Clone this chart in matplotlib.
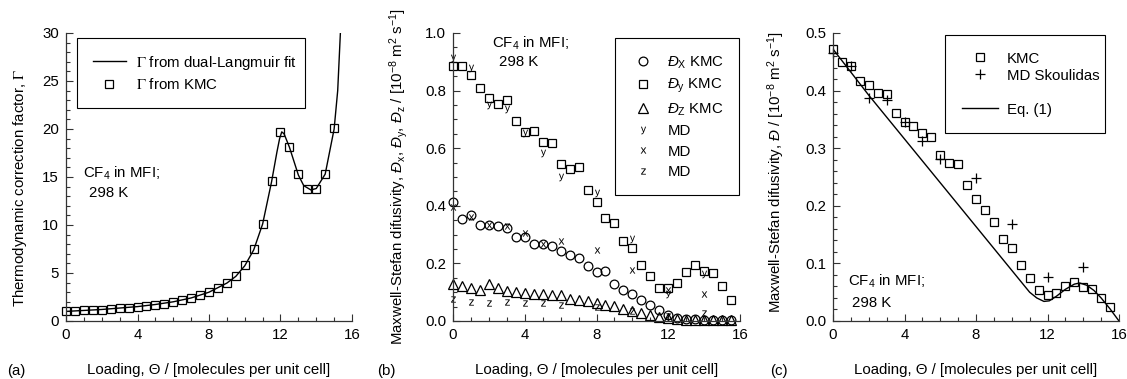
import matplotlib
matplotlib.use("Agg")
import matplotlib.pyplot as plt
from matplotlib.ticker import MultipleLocator, FormatStrFormatter

plt.rcParams['font.family'] = ['Liberation Sans', 'DejaVu Sans']
plt.rcParams['mathtext.fontset'] = 'custom'
plt.rcParams['mathtext.rm'] = 'Liberation Sans'
plt.rcParams['mathtext.it'] = 'Liberation Sans:italic'
plt.rcParams['mathtext.bf'] = 'Liberation Sans:bold'

# ---------------- data ----------------
# panel (a)
a_kmc_x = [0, 0.5, 1, 1.5, 2, 2.5, 3, 3.5, 4, 4.5, 5, 5.5, 6, 6.5, 7, 7.5, 8, 8.5, 9, 9.5,
           10, 10.5, 11, 11.5, 12, 12.5, 13, 13.5, 14, 14.5, 15]
a_kmc_y = [1.04, 1.08, 1.11, 1.15, 1.18, 1.22, 1.32, 1.39, 1.5, 1.6, 1.7, 1.81, 1.98, 2.19,
           2.4, 2.68, 3.0, 3.48, 3.97, 4.73, 5.8, 7.45, 10.1, 14.6, 19.7, 18.1, 15.3, 13.7,
           13.75, 15.35, 20.1]
a_fit_x = [0, 1, 2, 3, 4, 5, 6, 7, 8, 9, 9.5, 10, 10.5, 11, 11.5, 11.8, 11.95, 12.07, 12.2,
           12.5, 13, 13.3, 13.7, 14, 14.5, 15, 15.2, 15.35]
a_fit_y = [1.0, 1.1, 1.2, 1.35, 1.5, 1.72, 2.0, 2.4, 3.0, 3.95, 4.65, 5.75, 7.4, 10.1, 14.5,
           17.6, 19.0, 19.7, 19.5, 18.1, 15.2, 14.1, 13.65, 13.8, 15.3, 20.0, 24.0, 30.0]

# panel (b)
b_kmc_x = [0, 0.5, 1, 1.5, 2, 2.5, 3, 3.5, 4, 4.5, 5, 5.5, 6, 6.5, 7, 7.5, 8, 8.5, 9, 9.5,
           10, 10.5, 11, 11.5, 12, 12.5, 13, 13.5, 14, 14.5, 15, 15.5]
b_dx_kmc = [0.412, 0.353, 0.368, 0.333, 0.333, 0.329, 0.324, 0.29, 0.292, 0.269, 0.266, 0.26,
            0.244, 0.229, 0.219, 0.191, 0.171, 0.173, 0.13, 0.109, 0.095, 0.072, 0.055, 0.037,
            0.02, 0.012, 0.008, 0.006, 0.005, 0.004, 0.004, 0.003]
b_dy_kmc = [0.886, 0.884, 0.855, 0.809, 0.776, 0.753, 0.766, 0.696, 0.655, 0.661, 0.623, 0.619,
            0.544, 0.527, 0.534, 0.455, 0.414, 0.358, 0.341, 0.278, 0.252, 0.196, 0.155, 0.115,
            0.115, 0.132, 0.171, 0.194, 0.174, 0.165, 0.121, 0.072]
b_dz_kmc = [0.128, 0.12, 0.116, 0.109, 0.128, 0.116, 0.104, 0.101, 0.097, 0.093, 0.095, 0.09,
            0.09, 0.078, 0.074, 0.07, 0.063, 0.056, 0.051, 0.042, 0.035, 0.028, 0.021, 0.014,
            0.009, 0.007, 0.005, 0.004, 0.004, 0.004, 0.004, 0.004]
b_md_x = [0, 1, 2, 3, 4, 5, 6, 8, 10, 12, 14]
b_dy_md = [0.913, 0.878, 0.75, 0.735, 0.652, 0.585, 0.5, 0.443, 0.283, 0.095, 0.162]
b_dx_md = [0.397, 0.362, 0.333, 0.33, 0.307, 0.269, 0.278, 0.246, 0.176, 0.109, 0.095]
b_dz_md = [0.075, 0.067, 0.064, 0.067, 0.062, 0.062, 0.056, 0.05, 0.033, 0.018, 0.028]

# panel (c)
c_kmc_x = b_kmc_x
c_kmc_y = [0.473, 0.449, 0.442, 0.416, 0.41, 0.396, 0.394, 0.361, 0.346, 0.339, 0.326, 0.32,
           0.288, 0.274, 0.273, 0.236, 0.212, 0.193, 0.172, 0.142, 0.126, 0.098, 0.075, 0.053,
           0.046, 0.048, 0.06, 0.067, 0.059, 0.055, 0.04, 0.024]
c_md_x = [0, 1, 2, 3, 4, 5, 6, 8, 10, 12, 14]
c_md_y = [0.465, 0.442, 0.388, 0.384, 0.345, 0.313, 0.281, 0.249, 0.168, 0.076, 0.094]
c_eq_x = [0, 1, 2, 3, 4, 5, 6, 7, 8, 9, 10, 10.5, 11, 11.4, 11.8, 12.1, 12.5, 13, 13.5, 13.8,
          14.2, 14.6, 15, 15.5, 16]
c_eq_y = [0.472, 0.432, 0.392, 0.354, 0.316, 0.278, 0.24, 0.202, 0.164, 0.126, 0.088, 0.069,
          0.05, 0.04, 0.034, 0.035, 0.043, 0.055, 0.064, 0.066, 0.062, 0.053, 0.04, 0.021, 0.0]

# ---------------- figure ----------------
W, H = 1127, 379
fig = plt.figure(figsize=(W / 100, H / 100), dpi=100)
bottom = (H - 321) / H
height = 288 / H
axa = fig.add_axes([66 / W, bottom, 286 / W, height])
axb = fig.add_axes([453 / W, bottom, 287 / W, height])
axc = fig.add_axes([833 / W, bottom, 286 / W, height])

FS = 10.8
spine_col = '#333333'
for ax in (axa, axb, axc):
    ax.spines['top'].set_visible(False)
    ax.spines['right'].set_visible(False)
    for s in ('left', 'bottom'):
        ax.spines[s].set_color(spine_col)
        ax.spines[s].set_linewidth(0.9)
    ax.set_xlim(0, 16)
    ax.xaxis.set_major_locator(MultipleLocator(4))
    ax.xaxis.set_minor_locator(MultipleLocator(1))
    ax.tick_params(which='both', direction='in', color=spine_col, width=0.8,
                   labelsize=FS, pad=5)
    ax.tick_params(which='major', length=5)
    ax.tick_params(which='minor', length=3)
    ax.set_xlabel('Loading, Θ / [molecules per unit cell]', fontsize=FS)
    ax.xaxis.label.set_va('center')
    ax.xaxis.set_label_coords(0.5, -0.17)

mk = dict(ls='none', mfc='none', mec='black', mew=0.9, clip_on=False)

# ---- (a)
axa.set_ylim(0, 30)
axa.yaxis.set_major_locator(MultipleLocator(5))
axa.yaxis.set_minor_locator(MultipleLocator(1))
axa.plot(a_fit_x, a_fit_y, color='black', lw=1.0, label=r'$\Gamma$ from dual-Langmuir fit')
axa.plot(a_kmc_x, a_kmc_y, marker='s', ms=6, label=r'$\Gamma$ from KMC', **mk)
axa.set_ylabel(r'Thermodynamic correction factor, $\Gamma$', fontsize=FS, math_fontfamily='stix')
axa.yaxis.label.set_va('center')
axa.yaxis.set_label_coords(-0.161, 0.462)
axa.text(0.93, 15.4, 'CF$_4$ in MFI;', fontsize=FS, va='center')
axa.text(1.3, 13.3, '298 K', fontsize=FS, va='center')
lga = axa.legend(loc='upper left', bbox_to_anchor=(0.038, 0.760, 0.798, 0.223), mode='expand',
                 fancybox=False, edgecolor='black', framealpha=1,
                 prop=dict(size=FS, math_fontfamily='stix'), borderpad=1.05,
                 labelspacing=0.38, handlelength=2.2, handletextpad=0.7, borderaxespad=0)
lga.get_frame().set_linewidth(0.8)

# ---- (b)
axb.set_ylim(0, 1.0)
axb.yaxis.set_major_locator(MultipleLocator(0.2))
axb.yaxis.set_minor_locator(MultipleLocator(0.05))
axb.yaxis.set_major_formatter(FormatStrFormatter('%.1f'))
axb.plot(b_kmc_x, b_dx_kmc, marker='o', ms=6.3, label=r'$Đ_{\mathrm{X}}$ KMC', **mk)
axb.plot(b_kmc_x, b_dy_kmc, marker='s', ms=6, label=r'$Đ_{\mathrm{y}}$ KMC', **mk)
axb.plot(b_kmc_x, b_dz_kmc, marker='^', ms=6.5, label=r'$Đ_{\mathrm{Z}}$ KMC', **mk)
txtmk = dict(ls='none', color='black', mew=0, clip_on=False)
axb.plot(b_md_x, b_dy_md, marker=r'$\mathrm{y}$', ms=5.5, label='MD', **txtmk)
axb.plot(b_md_x, b_dx_md, marker=r'$\mathrm{x}$', ms=4.5, label='MD', **txtmk)
axb.plot(b_md_x, b_dz_md, marker=r'$\mathrm{z}$', ms=4.5, label='MD', **txtmk)
axb.set_ylabel(r'Maxwell-Stefan difusivity, $Đ_{\mathrm{x}}$, $Đ_{\mathrm{y}}$, $Đ_{\mathrm{z}}$'
               r' / [10$^{-8}$ m$^{2}$ s$^{-1}$]', fontsize=FS)
axb.yaxis.label.set_va('center')
axb.yaxis.set_label_coords(-0.19, 0.5)
axb.text(2.16, 0.965, 'CF$_4$ in MFI;', fontsize=FS, va='center')
axb.text(2.56, 0.90, '298 K', fontsize=FS, va='center')
lgb = axb.legend(loc='upper left', bbox_to_anchor=(0.564, 0.448, 0.433, 0.535), mode='expand',
                 fancybox=False, edgecolor='black', framealpha=1, fontsize=FS, borderpad=1.1,
                 labelspacing=0.42, handlelength=1.5, handletextpad=0.9, borderaxespad=0)
lgb.get_frame().set_linewidth(0.8)

# ---- (c)
axc.set_ylim(0, 0.5)
axc.yaxis.set_major_locator(MultipleLocator(0.1))
axc.yaxis.set_minor_locator(MultipleLocator(0.02))
axc.yaxis.set_major_formatter(FormatStrFormatter('%.1f'))
axc.plot(c_kmc_x, c_kmc_y, marker='s', ms=6, label='KMC', **mk)
axc.plot(c_md_x, c_md_y, marker='+', ms=7, label='MD Skoulidas', **mk)
axc.plot([], [], ls='none', label=' ')
axc.plot(c_eq_x, c_eq_y, color='black', lw=1.0, label='Eq. (1)')
axc.set_ylabel(r'Maxwell-Stefan difusivity, $Đ$ / [10$^{-8}$ m$^{2}$ s$^{-1}$]', fontsize=FS)
axc.yaxis.label.set_va('center')
axc.yaxis.set_label_coords(-0.197, 0.516)
axc.text(0.86, 0.069, 'CF$_4$ in MFI;', fontsize=FS, va='center')
axc.text(1.04, 0.031, '298 K', fontsize=FS, va='center')
lgc = axc.legend(loc='upper left', bbox_to_anchor=(0.392, 0.670, 0.559, 0.323), mode='expand',
                 fancybox=False, edgecolor='black', framealpha=1, fontsize=FS, borderpad=1.1,
                 labelspacing=0.2, handlelength=2.4, handletextpad=0.6, borderaxespad=0)
lgc.get_frame().set_linewidth(0.8)

# panel labels
fig.text(7 / W, 1 - 371 / H, '(a)', fontsize=FS, va='center')
fig.text(377 / W, 1 - 371 / H, '(b)', fontsize=FS, va='center')
fig.text(770 / W, 1 - 371 / H, '(c)', fontsize=FS, va='center')

fig.savefig('out.png', dpi=100)
